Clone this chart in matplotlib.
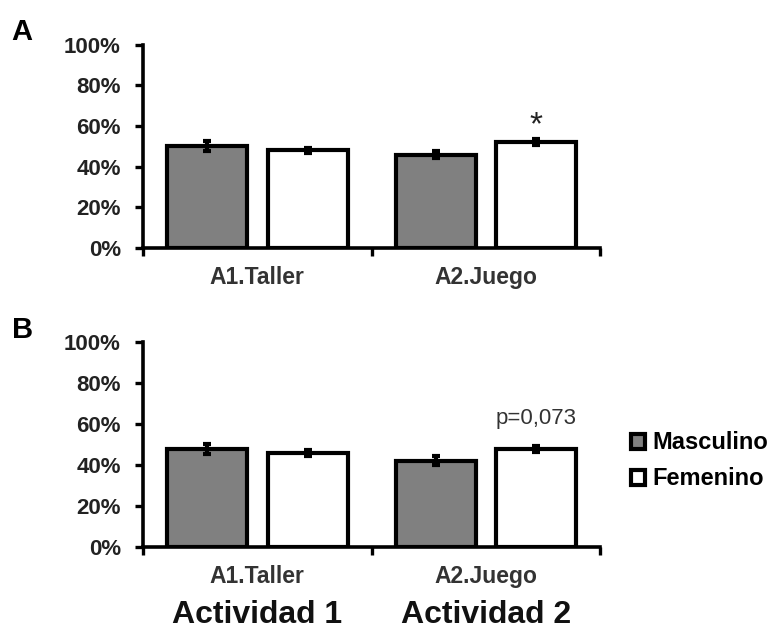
import matplotlib
matplotlib.use("Agg")
import matplotlib.pyplot as plt
from matplotlib.patches import Patch

plt.rcParams['font.family'] = ['Liberation Sans', 'DejaVu Sans']

categorias = ['A1.Taller', 'A2.Juego']
actividades = ['Actividad 1', 'Actividad 2']
grupos = ['Masculino', 'Femenino']

# panel A
a_masc = [50, 46]
a_fem = [48, 52]
a_masc_err = [2.5, 1.8]
a_fem_err = [1.3, 1.5]

# panel B
b_masc = [48, 42]
b_fem = [46, 48]
b_masc_err = [2.5, 2.2]
b_fem_err = [1.5, 1.5]

colores = ['#808080', 'white']
yticks = [0, 20, 40, 60, 80, 100]


def dibujar_panel(ax, masc, fem, masc_err, fem_err):
    centros = [0.5, 1.5]
    off = 0.22
    w = 0.35
    for vals, errs, dx, c in [(masc, masc_err, -off, colores[0]),
                              (fem, fem_err, off, colores[1])]:
        xs = [x + dx for x in centros]
        ax.bar(xs, vals, width=w, color=c, edgecolor='black', linewidth=3, zorder=2)
        ax.errorbar(xs, vals, yerr=errs, fmt='none', ecolor='black',
                    elinewidth=3, capsize=3, capthick=3, zorder=3)
    ax.set_xlim(0, 2)
    ax.set_ylim(0, 100)
    ax.set_yticks(yticks)
    ax.set_yticklabels([f'{v}%' for v in yticks], fontsize=16, fontweight='bold',
                       color='#222222')
    ax.set_xticks([0, 1, 2])
    ax.set_xticklabels([])
    ax.set_xticks(centros, minor=True)
    ax.set_xticklabels(categorias, minor=True, fontsize=16.5, fontweight='bold',
                       color='#333333')
    ax.tick_params(axis='x', which='minor', length=0, pad=13)
    ax.tick_params(axis='x', which='major', length=6, width=2.4, direction='out')
    ax.tick_params(axis='y', length=6, width=2.4, direction='out', pad=10)
    for s in ['top', 'right']:
        ax.spines[s].set_visible(False)
    for s in ['left', 'bottom']:
        ax.spines[s].set_linewidth(2.6)


fig = plt.figure(figsize=(7.75, 6.31), dpi=100)
axA = fig.add_axes([0.1845, 0.607, 0.59, 0.322])
axB = fig.add_axes([0.1845, 0.133, 0.59, 0.325])

dibujar_panel(axA, a_masc, a_fem, a_masc_err, a_fem_err)
dibujar_panel(axB, b_masc, b_fem, b_masc_err, b_fem_err)

axA.text(1.5 + 0.22, a_fem[1] + a_fem_err[1] - 1, '*', ha='center', va='bottom',
         fontsize=24, color='#222222')
axB.text(1.5 + 0.22, b_fem[1] + b_fem_err[1] + 8, 'p=0,073', ha='center', va='bottom',
         fontsize=16, color='#333333')

fig.text(0.015, 0.95, 'A', fontsize=21, fontweight='bold', va='center')
fig.text(0.015, 0.477, 'B', fontsize=21, fontweight='bold', va='center')

for x, t in zip([0.5, 1.5], actividades):
    axB.text(x, -0.33, t, transform=axB.get_xaxis_transform(), ha='center', va='center',
             fontsize=23, fontweight='bold', color='#111111')

handles = [Patch(facecolor=c, edgecolor='black', linewidth=3) for c in colores]
axB.legend(handles, grupos, loc='center left', bbox_to_anchor=(1.068, 0.42), frameon=False,
           prop={'weight': 'bold', 'size': 17}, handlelength=0.6, handleheight=0.6,
           handletextpad=0.3, labelspacing=0.55, borderpad=0, borderaxespad=0)

fig.savefig('out.png', dpi=100)
